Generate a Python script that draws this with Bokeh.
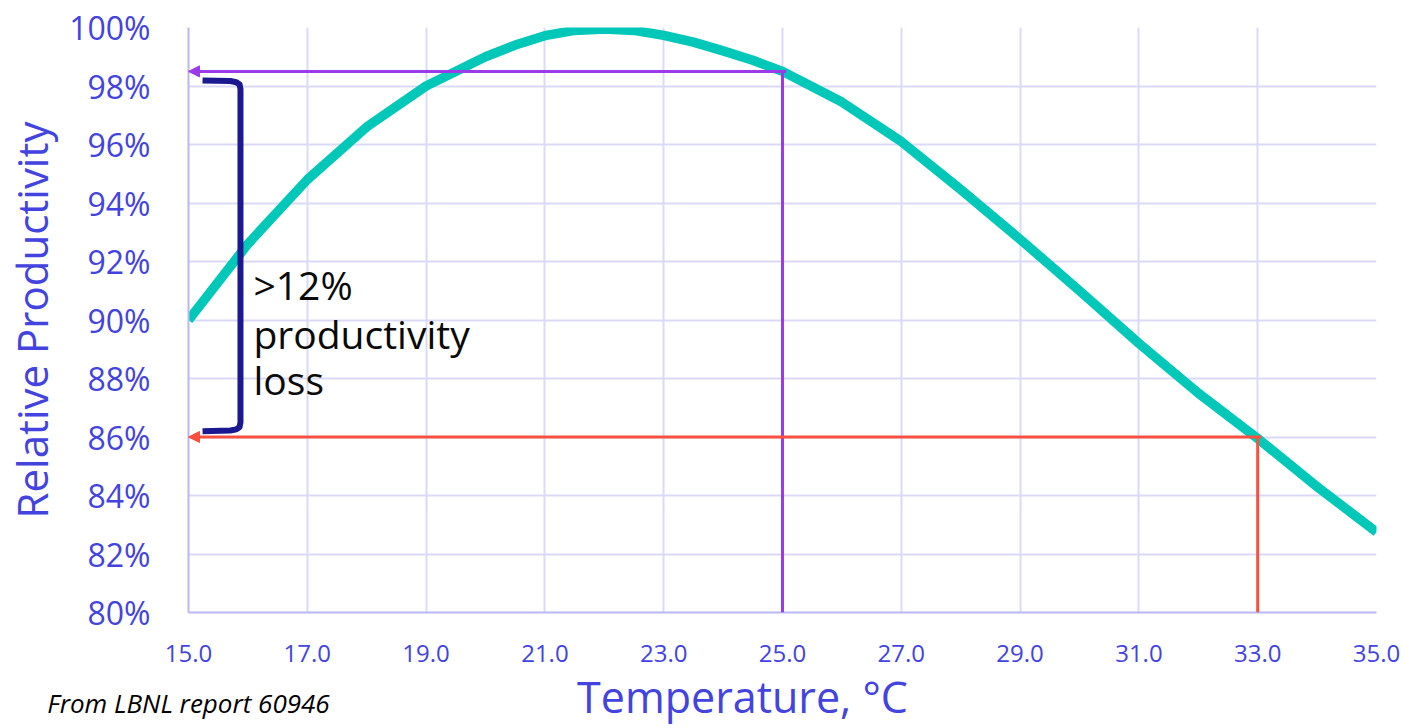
from bokeh.plotting import figure
from bokeh.models import (Range1d, FixedTicker, PrintfTickFormatter, Label,
                          Arrow, NormalHead, LinearAxis)
from bokeh.embed import file_html
from bokeh.resources import INLINE

# ---------------- data ----------------
temps = [15, 16, 17, 18, 19, 20, 20.5, 21, 21.5, 22, 22.5, 23, 23.5, 24, 24.5, 25,
         26, 27, 28, 29, 30, 31, 32, 33, 34, 35]
productivity = [90.0, 92.6, 94.8, 96.6, 98.0, 99.0, 99.4, 99.72, 99.9, 99.95, 99.9, 99.73,
                99.5, 99.2, 98.88, 98.5,
                97.45, 96.1, 94.46, 92.76, 91.0, 89.2, 87.5, 85.95, 84.3, 82.75]

marker_temps = [25, 33]          # temperatures highlighted by the arrows
marker_prod = [98.5, 86.0]       # productivity at those temperatures
marker_colors = ["#9A3AE8", "#F85140"]

x_ticks = [15, 17, 19, 21, 23, 25, 27, 29, 31, 33, 35]
y_ticks = [80, 82, 84, 86, 88, 90, 92, 94, 96, 98, 100]

loss_text = [">12%", "productivity", "loss"]
x_title = "Temperature, °C"
y_title = "Relative Productivity"
note = "From LBNL report 60946"

# ---------------- styles ----------------
BLUE = "#4343E0"
GRID = "#DADAF8"
AXIS = "#B8B8F2"
TEAL = "#00C8B8"
NAVY = "#1C1890"
FONT = "Open Sans"

W, H = 1400, 728
p = figure(width=W, height=H,
           x_range=Range1d(15, 35), y_range=Range1d(80, 100),
           output_backend="svg", toolbar_location=None,
           min_border_left=188, min_border_right=24,
           min_border_top=27, min_border_bottom=113)
p.outline_line_color = None
p.background_fill_color = "white"
p.border_fill_color = "white"
# a pixel-like range across the frame, used to place the bottom texts
p.extra_x_ranges = {"px": Range1d(0, 1188)}

# axes
p.xaxis.ticker = FixedTicker(ticks=x_ticks)
p.xaxis.formatter = PrintfTickFormatter(format="%.1f")
p.xaxis.major_label_text_font = FONT
p.xaxis.major_label_text_font_size = "24px"
p.xaxis.major_label_text_color = BLUE
p.xaxis.major_label_standoff = 26

p.yaxis.ticker = FixedTicker(ticks=y_ticks)
p.yaxis.formatter = PrintfTickFormatter(format="%d%%")
p.yaxis.major_label_text_font = FONT
p.yaxis.major_label_text_font_size = "32px"
p.yaxis.major_label_text_color = BLUE
p.yaxis.major_label_standoff = 32
p.yaxis.axis_label = y_title
p.yaxis.axis_label_text_font = FONT
p.yaxis.axis_label_text_font_size = "42px"
p.yaxis.axis_label_text_font_style = "normal"
p.yaxis.axis_label_text_color = BLUE
p.yaxis.axis_label_standoff = 6

for ax in (p.xaxis, p.yaxis):
    ax.major_tick_line_color = None
    ax.minor_tick_line_color = None
    ax.axis_line_color = AXIS
    ax.axis_line_width = 2

# x-axis title (as a single tick label of an extra axis, placed left of centre)
title_pos = 554
tax = LinearAxis(x_range_name="px", ticker=FixedTicker(ticks=[title_pos]),
                 major_label_overrides={title_pos: x_title},
                 major_label_text_font=FONT, major_label_text_font_size="43px",
                 major_label_text_color=BLUE, major_label_standoff=-4,
                 axis_line_color=None, major_tick_line_color=None,
                 minor_tick_line_color=None)
p.add_layout(tax, "below")

# source note at the bottom left
note_pos = 0
nax = LinearAxis(x_range_name="px", ticker=FixedTicker(ticks=[note_pos]),
                 major_label_overrides={note_pos: note},
                 major_label_text_font=FONT, major_label_text_font_size="26px",
                 major_label_text_font_style="italic",
                 major_label_text_color="#000000", major_label_standoff=-50,
                 axis_line_color=None, major_tick_line_color=None,
                 minor_tick_line_color=None)
p.add_layout(nax, "below")

p.xgrid.ticker = FixedTicker(ticks=x_ticks)
p.ygrid.ticker = FixedTicker(ticks=y_ticks)
p.grid.grid_line_color = GRID
p.grid.grid_line_width = 2

# marker lines (vertical drop + horizontal arrow to the axis)
for t, v, c in zip(marker_temps, marker_prod, marker_colors):
    p.add_layout(Arrow(end=None, x_start=t, y_start=v, x_end=t, y_end=80,
                       line_color=c, line_width=3))
    p.add_layout(Arrow(end=NormalHead(size=11, fill_color=c, line_color=c, line_width=1),
                       x_start=t + 0.06, y_start=v, x_end=15, y_end=v,
                       line_color=c, line_width=3))

# the curve
p.line(temps, productivity, line_width=9.5, line_color=TEAL, line_join="round")

# bracket between the two marker levels
top = marker_prod[0] - 0.33
bot = marker_prod[1] + 0.22
bx0, bx1 = 15.236, 15.875
bracket_x = [bx0, bx1 - 0.17, bx1 - 0.07, bx1 - 0.015, bx1, bx1, bx1 - 0.015, bx1 - 0.07, bx1 - 0.17, bx0]
bracket_y = [top + 0.02, top, top - 0.04, top - 0.12, top - 0.28,
             bot + 0.28, bot + 0.12, bot + 0.04, bot, bot - 0.02]
p.line(bracket_x, bracket_y, line_width=6, line_color=NAVY, line_join="round")

# bracket text
for txt, yy in zip(loss_text, [91.2, 89.55, 87.97]):
    p.add_layout(Label(x=16.094, y=yy, text=txt, text_font=FONT,
                       text_font_size="39px", text_color="#0A0A0A",
                       text_align="left", text_baseline="alphabetic"))

open("out.html", "w").write(file_html(p, INLINE))
